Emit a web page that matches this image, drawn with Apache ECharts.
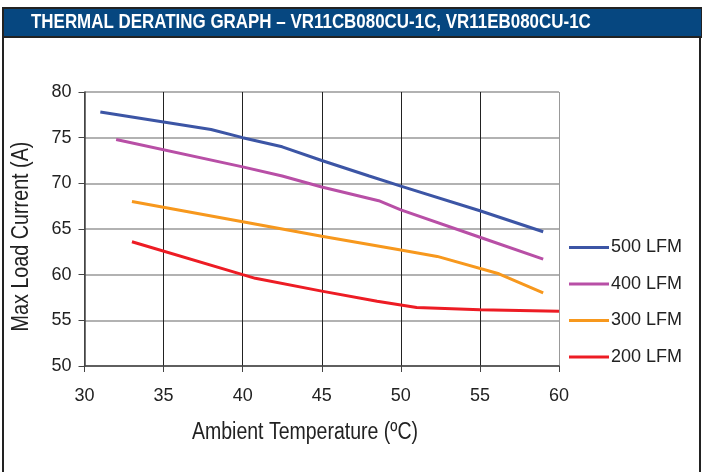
<!DOCTYPE html>
<html>
<head>
<meta charset="utf-8">
<script src="https://cdn.jsdelivr.net/npm/echarts@6/dist/echarts.min.js"></script>
<style>
html,body{margin:0;padding:0;background:#fff;}
#chart{width:702px;height:472px;}
</style>
</head>
<body>
<div id="chart"></div>
<script>
const titleText = 'THERMAL DERATING GRAPH \u2013 VR11CB080CU-1C, VR11EB080CU-1C';
const xAxisName = 'Ambient Temperature (\u00baC)';
const yAxisName = 'Max Load Current (A)';
const seriesNames = ['500 LFM', '400 LFM', '300 LFM', '200 LFM'];
const seriesColors = ['#3c55a5', '#b84fa6', '#f7981d', '#ed1c24'];

const lfm500 = [[31, 77.8], [38, 75.9], [40, 75.0], [42.5, 74.0], [45, 72.5], [48, 70.8], [50, 69.7], [55, 67.0], [59, 64.7]];
const lfm400 = [[32, 74.8], [40, 71.8], [42.5, 70.8], [45, 69.6], [48.6, 68.1], [50, 67.1], [55, 64.1], [59, 61.7]];
const lfm300 = [[33, 68.0], [40, 65.8], [45, 64.2], [50, 62.7], [52.3, 62.0], [56.2, 60.1], [59, 58.0]];
const lfm200 = [[33, 63.6], [40, 60.0], [40.8, 59.6], [45, 58.2], [48.5, 57.1], [51, 56.4], [55, 56.15], [60, 56.0]];
const seriesData = [lfm500, lfm400, lfm300, lfm200];

const chart = echarts.init(document.getElementById('chart'), null, {renderer: 'canvas'});
const regular = "'Liberation Sans', Arial, sans-serif";

chart.setOption({
  animation: false,
  backgroundColor: '#ffffff',
  graphic: [
    {type: 'rect', shape: {x: 3, y: 8, width: 697, height: 470}, style: {fill: 'none', stroke: '#222', lineWidth: 2}, z: 0},
    {type: 'rect', shape: {x: 3, y: 8, width: 699, height: 29}, style: {fill: '#064780', stroke: '#222', lineWidth: 2}, z: 1},
    {type: 'text', x: 31, y: 22.5, scaleX: 0.847, scaleY: 1,
     style: {text: titleText, fill: '#ffffff', font: "bold 20px " + regular, textAlign: 'left', textVerticalAlign: 'middle'}, z: 2},
    {type: 'text', x: 305, y: 433, scaleX: 0.83, scaleY: 1,
     style: {text: xAxisName, fill: '#222', font: "23.5px " + regular, textAlign: 'center', textVerticalAlign: 'middle'}, z: 2},
    {type: 'text', x: 22, y: 236.5, rotation: Math.PI / 2, scaleX: 0.84, scaleY: 1,
     style: {text: yAxisName, fill: '#222', font: "23.5px " + regular, textAlign: 'center', textVerticalAlign: 'middle'}, z: 2}
  ],
  grid: {left: 84.5, right: 143, top: 92, bottom: 106, containLabel: false},
  legend: {
    orient: 'vertical', left: 564, top: 232.5,
    icon: 'rect', itemWidth: 40, itemHeight: 3, itemGap: 16.5,
    textStyle: {fontFamily: regular, fontSize: 18, color: '#222', lineHeight: 20, padding: [0, 0, 0, -3]},
    data: seriesNames
  },
  xAxis: {
    type: 'value', min: 30, max: 60, interval: 5,
    axisLine: {show: true, onZero: false, lineStyle: {color: '#444', width: 1.5}},
    axisTick: {show: true, length: 6, lineStyle: {color: '#444'}},
    axisLabel: {fontFamily: regular, fontSize: 18, color: '#222', margin: 21},
    splitLine: {show: true, lineStyle: {color: ['#444', '#222', '#222', '#222', '#222', '#222', '#999'], width: 1}}
  },
  yAxis: {
    type: 'value', min: 50, max: 80, interval: 5,
    axisLine: {show: true, onZero: false, lineStyle: {color: '#444', width: 1.5}},
    axisTick: {show: true, length: 6, lineStyle: {color: '#444'}},
    axisLabel: {fontFamily: regular, fontSize: 18, color: '#222', margin: 13},
    splitLine: {show: true, lineStyle: {color: '#999', width: 1.5}}
  },
  series: seriesNames.map((n, i) => ({
    name: n, type: 'line', data: seriesData[i], showSymbol: false, symbol: 'none',
    lineStyle: {color: seriesColors[i], width: 3}, itemStyle: {color: seriesColors[i]},
    z: 3
  }))
});
</script>
</body>
</html>
